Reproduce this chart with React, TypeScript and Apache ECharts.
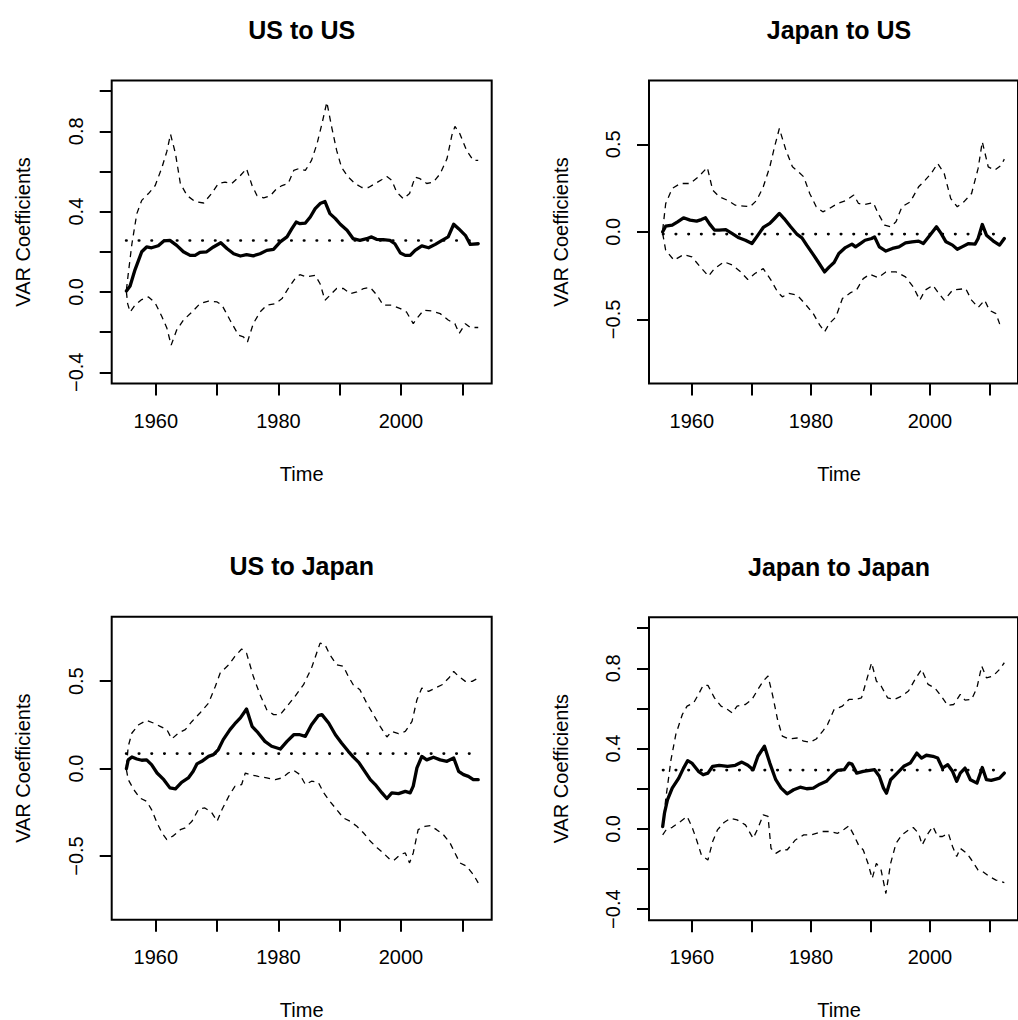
import React, { useEffect, useRef } from "react";
import * as echarts from "echarts";

// ---------- DATA ----------
const START_YEAR = 1955.15;
const END_YEAR = 2012.6;

const X_TICKS = [1960, 1970, 1980, 1990, 2000, 2010];
const X_LABELS = [1960, 1980, 2000];

// US to US
const US_US_MEAN = 0.256;
const US_US_COEF: [number, number][] = [
  [1955.2, 0.005], [1955.8, 0.03], [1956.6, 0.11], [1957.7, 0.2], [1958.5, 0.224], [1959.3, 0.22], [1960.4, 0.23],
  [1961.3, 0.254], [1962.3, 0.257], [1963.4, 0.232], [1964.5, 0.2], [1965.6, 0.182], [1966.4, 0.182], [1967.2, 0.197],
  [1968.3, 0.2], [1969.4, 0.224], [1970.6, 0.245], [1971.6, 0.216], [1972.7, 0.19], [1973.8, 0.179], [1974.8, 0.186],
  [1975.9, 0.18], [1977.0, 0.19], [1978.1, 0.207], [1979.2, 0.212], [1980.3, 0.249], [1981.4, 0.274], [1982.2, 0.315],
  [1982.9, 0.348], [1983.5, 0.34], [1984.4, 0.343], [1985.2, 0.373], [1986.0, 0.415], [1986.8, 0.44], [1987.6, 0.45],
  [1988.4, 0.39], [1989.3, 0.365], [1990.1, 0.337], [1991.2, 0.307], [1992.2, 0.265], [1993.3, 0.257], [1994.4, 0.265],
  [1995.2, 0.274], [1996.0, 0.262], [1997.1, 0.26], [1998.2, 0.257], [1999.0, 0.24], [1999.9, 0.194], [2000.7, 0.182],
  [2001.5, 0.182], [2002.3, 0.207], [2003.4, 0.229], [2004.5, 0.22], [2005.6, 0.237], [2006.7, 0.257], [2007.7, 0.274],
  [2008.6, 0.337], [2009.4, 0.315], [2010.5, 0.282], [2011.3, 0.237], [2012.6, 0.24],
];
const US_US_UPPER: [number, number][] = [
  [1955.2, 0.01], [1955.5, 0.09], [1956.1, 0.24], [1956.9, 0.39], [1957.7, 0.456], [1958.8, 0.49], [1959.9, 0.53],
  [1961.0, 0.62], [1961.8, 0.7], [1962.4, 0.785], [1963.2, 0.69], [1964.0, 0.54], [1965.1, 0.48], [1966.4, 0.45],
  [1967.8, 0.443], [1969.1, 0.49], [1970.2, 0.54], [1971.3, 0.547], [1972.4, 0.54], [1973.8, 0.58], [1974.8, 0.614],
  [1975.7, 0.53], [1976.5, 0.48], [1977.6, 0.468], [1978.7, 0.48], [1979.7, 0.514], [1980.6, 0.53], [1981.6, 0.54],
  [1982.5, 0.605], [1983.3, 0.614], [1984.4, 0.605], [1985.4, 0.655], [1986.3, 0.738], [1987.1, 0.837], [1987.9, 0.945],
  [1988.7, 0.82], [1989.5, 0.705], [1990.3, 0.62], [1991.4, 0.572], [1992.5, 0.54], [1993.6, 0.52], [1994.7, 0.52],
  [1995.8, 0.54], [1996.9, 0.56], [1997.7, 0.575], [1998.5, 0.556], [1999.3, 0.497], [2000.4, 0.464], [2001.4, 0.49],
  [2002.3, 0.572], [2003.1, 0.564], [2004.2, 0.54], [2005.3, 0.547], [2006.4, 0.589], [2007.5, 0.663], [2008.3, 0.78],
  [2008.8, 0.824], [2009.6, 0.788], [2010.7, 0.705], [2011.8, 0.655], [2012.6, 0.655],
];
const US_US_LOWER: [number, number][] = [
  [1955.2, 0.0], [1955.4, -0.058], [1955.8, -0.1], [1956.6, -0.066], [1957.7, -0.038], [1958.8, -0.025], [1959.9, -0.055],
  [1961.0, -0.124], [1961.8, -0.18], [1962.5, -0.265], [1963.4, -0.19], [1964.5, -0.14], [1965.9, -0.1], [1967.2, -0.058],
  [1968.6, -0.046], [1970.0, -0.05], [1970.8, -0.066], [1972.1, -0.14], [1973.5, -0.216], [1974.3, -0.224], [1974.95, -0.249],
  [1975.9, -0.158], [1977.0, -0.1], [1978.1, -0.066], [1979.5, -0.058], [1980.6, -0.033], [1981.6, 0.017], [1982.7, 0.066],
  [1983.5, 0.086], [1984.6, 0.075], [1986.0, 0.083], [1986.8, 0.041], [1987.6, -0.041], [1988.4, -0.017], [1989.5, 0.017],
  [1990.6, 0.017], [1991.7, -0.008], [1992.8, 0.0], [1993.9, 0.017], [1995.0, 0.022], [1996.1, -0.017], [1997.1, -0.066],
  [1998.5, -0.066], [1999.9, -0.083], [2000.9, -0.1], [2002.0, -0.158], [2002.8, -0.124], [2003.7, -0.091], [2005.0, -0.095],
  [2006.4, -0.108], [2007.7, -0.14], [2008.8, -0.158], [2009.5, -0.207], [2010.5, -0.158], [2011.3, -0.177], [2012.6, -0.177],
];

// Japan to US
const JP_US_MEAN = -0.013;
const JP_US_COEF: [number, number][] = [
  [1955.1, 0.0], [1955.6, 0.032], [1956.7, 0.038], [1957.6, 0.057], [1958.6, 0.08], [1959.7, 0.067], [1960.8, 0.061],
  [1961.6, 0.07], [1962.3, 0.08], [1963.0, 0.044], [1963.8, 0.01], [1964.6, 0.01], [1965.7, 0.013], [1966.8, -0.01],
  [1967.9, -0.034], [1969.0, -0.048], [1970.1, -0.067], [1970.9, -0.029], [1972.0, 0.025], [1973.1, 0.048], [1973.9, 0.076],
  [1974.7, 0.105], [1975.5, 0.076], [1976.6, 0.029], [1977.7, -0.015], [1978.5, -0.034], [1979.3, -0.076], [1980.4, -0.13],
  [1981.2, -0.171], [1982.3, -0.229], [1983.1, -0.2], [1983.9, -0.175], [1984.7, -0.124], [1985.8, -0.09], [1986.9, -0.07],
  [1987.5, -0.086], [1988.3, -0.067], [1989.1, -0.048], [1990.2, -0.038], [1990.7, -0.029], [1991.5, -0.086], [1992.6, -0.11],
  [1993.7, -0.095], [1994.8, -0.086], [1995.9, -0.063], [1997.0, -0.057], [1998.1, -0.053], [1998.9, -0.067], [2000.0, -0.019],
  [2001.1, 0.029], [2001.9, -0.01], [2002.7, -0.057], [2003.8, -0.076], [2004.6, -0.1], [2005.4, -0.086], [2006.5, -0.067],
  [2007.6, -0.07], [2008.1, -0.038], [2008.8, 0.042], [2009.5, -0.019], [2010.6, -0.051], [2011.7, -0.076], [2012.5, -0.038],
];
const JP_US_UPPER: [number, number][] = [
  [1955.1, 0.01], [1955.6, 0.16], [1956.7, 0.248], [1958.1, 0.276], [1959.7, 0.276], [1961.1, 0.314], [1962.6, 0.368],
  [1963.5, 0.238], [1964.6, 0.2], [1966.0, 0.18], [1967.3, 0.152], [1968.7, 0.147], [1969.8, 0.143], [1970.9, 0.18],
  [1972.0, 0.257], [1973.1, 0.371], [1973.9, 0.486], [1974.7, 0.59], [1975.8, 0.467], [1976.9, 0.371], [1977.9, 0.343],
  [1978.8, 0.314], [1979.8, 0.219], [1980.9, 0.143], [1982.0, 0.114], [1983.1, 0.133], [1984.5, 0.162], [1985.8, 0.177],
  [1987.2, 0.21], [1988.0, 0.162], [1989.1, 0.156], [1990.5, 0.166], [1991.3, 0.105], [1992.4, 0.038], [1993.4, 0.029],
  [1994.3, 0.057], [1995.3, 0.143], [1996.7, 0.171], [1998.1, 0.257], [1999.2, 0.295], [2000.2, 0.333], [2001.3, 0.39],
  [2002.4, 0.333], [2003.5, 0.19], [2004.6, 0.143], [2005.7, 0.171], [2007.0, 0.219], [2008.1, 0.362], [2008.8, 0.514],
  [2009.8, 0.371], [2010.9, 0.352], [2012.0, 0.381], [2012.5, 0.415],
];
const JP_US_LOWER: [number, number][] = [
  [1955.1, -0.01], [1955.6, -0.105], [1957.0, -0.162], [1958.6, -0.13], [1960.0, -0.143], [1961.4, -0.2], [1962.8, -0.253],
  [1963.8, -0.21], [1965.4, -0.171], [1966.8, -0.19], [1968.2, -0.229], [1969.4, -0.272], [1970.6, -0.238], [1972.0, -0.21],
  [1973.3, -0.276], [1974.4, -0.343], [1975.2, -0.371], [1976.3, -0.352], [1977.7, -0.362], [1979.0, -0.41], [1980.4, -0.467],
  [1981.5, -0.533], [1982.3, -0.571], [1983.1, -0.524], [1984.2, -0.486], [1985.3, -0.381], [1986.6, -0.349], [1987.7, -0.33],
  [1988.8, -0.267], [1989.9, -0.242], [1991.3, -0.261], [1992.6, -0.229], [1994.3, -0.229], [1995.9, -0.257], [1997.2, -0.314],
  [1998.3, -0.39], [1999.2, -0.333], [2000.5, -0.305], [2001.3, -0.343], [2002.4, -0.39], [2003.8, -0.333], [2006.0, -0.324],
  [2007.0, -0.39], [2008.1, -0.432], [2009.2, -0.39], [2010.0, -0.448], [2011.1, -0.467], [2011.7, -0.524], [2012.5, -0.52],
];

// US to Japan
const US_JP_MEAN = 0.086;
const US_JP_COEF: [number, number][] = [
  [1955.2, 0.0], [1955.5, 0.05], [1956.1, 0.067], [1956.9, 0.055], [1957.7, 0.048], [1958.5, 0.05], [1959.3, 0.023],
  [1960.2, -0.025], [1961.3, -0.063], [1962.3, -0.11], [1963.2, -0.116], [1964.2, -0.078], [1965.3, -0.053], [1966.1, -0.015],
  [1966.7, 0.027], [1967.5, 0.042], [1968.6, 0.07], [1969.4, 0.08], [1970.2, 0.109], [1971.0, 0.166], [1972.1, 0.223],
  [1972.9, 0.257], [1973.8, 0.29], [1974.8, 0.341], [1975.7, 0.242], [1976.7, 0.204], [1977.8, 0.156], [1978.9, 0.128],
  [1980.3, 0.112], [1981.4, 0.156], [1982.5, 0.194], [1983.5, 0.194], [1984.4, 0.185], [1985.4, 0.251], [1986.5, 0.303],
  [1987.1, 0.309], [1988.2, 0.261], [1989.3, 0.194], [1990.3, 0.147], [1991.4, 0.099], [1992.2, 0.067], [1993.1, 0.036],
  [1993.9, -0.006], [1995.0, -0.063], [1995.8, -0.091], [1996.9, -0.139], [1997.7, -0.171], [1998.5, -0.139], [1999.6, -0.143],
  [2000.7, -0.13], [2001.5, -0.139], [2002.0, -0.1], [2002.6, 0.004], [2003.4, 0.07], [2004.2, 0.05], [2005.3, 0.065],
  [2006.4, 0.05], [2007.5, 0.042], [2008.6, 0.061], [2009.4, -0.015], [2010.2, -0.034], [2011.0, -0.044], [2011.8, -0.063],
  [2012.6, -0.063],
];
const US_JP_UPPER: [number, number][] = [
  [1955.2, 0.013], [1955.5, 0.128], [1956.1, 0.204], [1957.2, 0.251], [1958.5, 0.276], [1959.6, 0.261], [1960.7, 0.242],
  [1961.8, 0.223], [1962.6, 0.17], [1963.7, 0.204], [1964.8, 0.223], [1965.9, 0.27], [1967.2, 0.318], [1968.6, 0.375],
  [1969.7, 0.47], [1970.5, 0.547], [1971.9, 0.594], [1972.9, 0.642], [1974.0, 0.684], [1974.8, 0.661], [1975.9, 0.528],
  [1977.0, 0.423], [1978.1, 0.337], [1979.2, 0.309], [1980.3, 0.309], [1981.4, 0.356], [1982.7, 0.413], [1984.1, 0.48],
  [1985.4, 0.575], [1986.8, 0.718], [1987.6, 0.709], [1988.4, 0.651], [1989.5, 0.594], [1990.6, 0.585], [1991.4, 0.528],
  [1992.2, 0.48], [1993.3, 0.451], [1994.4, 0.375], [1995.5, 0.309], [1996.6, 0.242], [1997.7, 0.181], [1998.5, 0.213],
  [1999.6, 0.2], [2000.7, 0.213], [2001.8, 0.27], [2002.6, 0.394], [2003.4, 0.461], [2004.5, 0.442], [2005.6, 0.461],
  [2006.7, 0.48], [2007.8, 0.518], [2008.6, 0.556], [2009.4, 0.528], [2010.5, 0.499], [2011.6, 0.499], [2012.6, 0.518],
];
const US_JP_LOWER: [number, number][] = [
  [1955.2, -0.006], [1955.5, -0.063], [1956.4, -0.12], [1957.4, -0.168], [1958.5, -0.187], [1959.3, -0.234], [1960.2, -0.31],
  [1961.0, -0.368], [1961.8, -0.406], [1962.9, -0.383], [1964.0, -0.349], [1964.8, -0.339], [1965.9, -0.301], [1967.0, -0.23],
  [1968.0, -0.225], [1969.1, -0.25], [1970.0, -0.301], [1970.8, -0.234], [1971.9, -0.158], [1972.9, -0.101], [1974.0, -0.091],
  [1974.6, -0.025], [1975.4, -0.034], [1976.7, -0.044], [1978.1, -0.053], [1979.5, -0.063], [1980.6, -0.053], [1981.6, -0.025],
  [1982.5, -0.01], [1983.5, -0.034], [1984.4, -0.091], [1985.4, -0.072], [1986.5, -0.078], [1987.4, -0.139], [1988.4, -0.187],
  [1989.5, -0.234], [1990.6, -0.282], [1991.7, -0.301], [1992.8, -0.33], [1993.9, -0.368], [1995.0, -0.415], [1996.1, -0.453],
  [1997.1, -0.482], [1998.2, -0.52], [1998.8, -0.526], [1999.9, -0.491], [2000.7, -0.482], [2001.4, -0.539], [2002.0, -0.482],
  [2002.8, -0.349], [2003.9, -0.33], [2004.8, -0.326], [2005.8, -0.349], [2006.9, -0.377], [2008.0, -0.425], [2008.8, -0.482],
  [2009.6, -0.539], [2010.7, -0.558], [2011.8, -0.606], [2012.6, -0.653],
];

// Japan to Japan
const JP_JP_MEAN = 0.293;
const JP_JP_COEF: [number, number][] = [
  [1955.1, 0.012], [1955.4, 0.078], [1955.9, 0.145], [1956.7, 0.203], [1957.8, 0.253], [1958.6, 0.303], [1959.3, 0.34],
  [1960.0, 0.328], [1961.1, 0.287], [1961.9, 0.27], [1962.7, 0.278], [1963.5, 0.312], [1964.6, 0.317], [1966.0, 0.312],
  [1967.3, 0.317], [1968.4, 0.333], [1969.4, 0.317], [1970.3, 0.295], [1971.1, 0.362], [1972.2, 0.412], [1973.1, 0.328],
  [1974.1, 0.245], [1975.0, 0.203], [1976.0, 0.175], [1977.1, 0.195], [1978.2, 0.208], [1979.3, 0.2], [1980.4, 0.203],
  [1981.5, 0.223], [1982.6, 0.237], [1983.4, 0.262], [1984.5, 0.292], [1985.6, 0.295], [1986.4, 0.328], [1986.9, 0.323],
  [1987.7, 0.278], [1988.8, 0.287], [1989.9, 0.292], [1990.7, 0.295], [1991.5, 0.262], [1992.2, 0.203], [1992.7, 0.178],
  [1993.4, 0.245], [1994.5, 0.278], [1995.6, 0.312], [1996.7, 0.328], [1997.8, 0.378], [1998.6, 0.353], [1999.4, 0.367],
  [2000.5, 0.362], [2001.3, 0.353], [2002.1, 0.303], [2003.0, 0.32], [2003.8, 0.287], [2004.5, 0.237], [2005.1, 0.278],
  [2005.9, 0.303], [2006.8, 0.245], [2007.9, 0.228], [2008.8, 0.306], [2009.5, 0.245], [2010.3, 0.242], [2011.7, 0.253],
  [2012.5, 0.278],
];
const JP_JP_UPPER: [number, number][] = [
  [1955.1, 0.012], [1955.6, 0.145], [1956.5, 0.345], [1957.3, 0.47], [1958.4, 0.57], [1959.2, 0.612], [1960.3, 0.628],
  [1961.1, 0.67], [1961.9, 0.715], [1962.7, 0.715], [1963.8, 0.653], [1964.9, 0.612], [1966.0, 0.595], [1966.8, 0.578],
  [1967.6, 0.612], [1969.0, 0.62], [1970.1, 0.645], [1971.1, 0.695], [1972.0, 0.737], [1972.8, 0.762], [1973.6, 0.662],
  [1974.4, 0.545], [1975.2, 0.462], [1976.3, 0.448], [1977.7, 0.453], [1978.8, 0.437], [1979.8, 0.432], [1980.9, 0.448],
  [1982.0, 0.487], [1982.8, 0.52], [1983.9, 0.595], [1985.3, 0.612], [1986.4, 0.645], [1987.5, 0.645], [1988.5, 0.653],
  [1989.4, 0.745], [1990.2, 0.828], [1991.0, 0.737], [1991.8, 0.712], [1992.9, 0.653], [1994.0, 0.645], [1995.3, 0.662],
  [1996.4, 0.687], [1997.5, 0.745], [1998.6, 0.795], [1999.7, 0.72], [2000.8, 0.703], [2001.9, 0.662], [2003.0, 0.615],
  [2004.0, 0.62], [2005.1, 0.67], [2005.9, 0.642], [2007.0, 0.645], [2007.9, 0.703], [2008.7, 0.812], [2009.5, 0.753],
  [2010.6, 0.762], [2011.7, 0.795], [2012.5, 0.828],
];
const JP_JP_LOWER: [number, number][] = [
  [1955.1, -0.03], [1955.6, -0.008], [1956.7, 0.008], [1958.1, 0.037], [1959.2, 0.062], [1960.0, 0.012], [1960.8, -0.055],
  [1961.6, -0.13], [1962.7, -0.155], [1963.5, -0.063], [1964.3, -0.005], [1965.4, 0.032], [1966.5, 0.053], [1967.6, 0.045],
  [1969.0, 0.02], [1970.3, -0.047], [1971.1, 0.003], [1972.0, 0.07], [1972.8, 0.062], [1973.3, -0.097], [1974.1, -0.122],
  [1975.2, -0.102], [1976.0, -0.105], [1977.4, -0.055], [1978.8, -0.03], [1980.1, -0.03], [1981.8, -0.013], [1983.1, -0.013],
  [1984.5, -0.022], [1985.6, -0.002], [1986.4, 0.015], [1987.2, -0.03], [1988.0, -0.08], [1988.8, -0.105], [1989.6, -0.172],
  [1990.3, -0.247], [1991.0, -0.172], [1991.8, -0.205], [1992.6, -0.322], [1993.4, -0.172], [1994.3, -0.072], [1995.3, -0.03],
  [1996.4, -0.005], [1997.2, 0.007], [1998.1, -0.022], [1998.7, -0.08], [1999.7, -0.022], [2000.5, 0.012], [2001.3, -0.038],
  [2002.1, -0.038], [2003.1, -0.022], [2003.8, -0.088], [2004.5, -0.138], [2005.1, -0.097], [2006.2, -0.122], [2007.0, -0.155],
  [2008.1, -0.205], [2008.9, -0.213], [2010.0, -0.238], [2011.1, -0.255], [2012.5, -0.268],
];

// Y axis ticks and labels
const Y_TICKS_A = [-0.4, -0.2, 0.0, 0.2, 0.4, 0.6, 0.8, 1.0];
const Y_LABELS_A = [-0.4, 0.0, 0.4, 0.8];
const Y_TICKS_B = [-0.5, 0.0, 0.5];
const Y_LABELS_B = [-0.5, 0.0, 0.5];

// ---------- LAYOUT ----------
const FONT = '"Liberation Sans", Arial, Helvetica, sans-serif';
const X_MIN = 1952.8;
const X_MAX = 2014.8;
const BOX_W = 380;
const BOX_H = 303;

const panels = [
  { title: "US to US", coef: US_US_COEF, upper: US_US_UPPER, lower: US_US_LOWER, mean: US_US_MEAN,
    yMin: -0.456, yMax: 1.053, yTicks: Y_TICKS_A, yLabels: Y_LABELS_A, left: 111.7, top: 80.5 },
  { title: "Japan to US", coef: JP_US_COEF, upper: JP_US_UPPER, lower: JP_US_LOWER, mean: JP_US_MEAN,
    yMin: -0.866, yMax: 0.864, yTicks: Y_TICKS_B, yLabels: Y_LABELS_B, left: 649, top: 80.5 },
  { title: "US to Japan", coef: US_JP_COEF, upper: US_JP_UPPER, lower: US_JP_LOWER, mean: US_JP_MEAN,
    yMin: -0.864, yMax: 0.869, yTicks: Y_TICKS_B, yLabels: Y_LABELS_B, left: 111.7, top: 616.7 },
  { title: "Japan to Japan", coef: JP_JP_COEF, upper: JP_JP_UPPER, lower: JP_JP_LOWER, mean: JP_JP_MEAN,
    yMin: -0.455, yMax: 1.055, yTicks: Y_TICKS_A, yLabels: Y_LABELS_A, left: 649, top: 617.2 },
];

const fmtY = (v: number) => v.toFixed(1).replace("-", "\u2212");

function buildOption() {
  const grid: any[] = [];
  const xAxis: any[] = [];
  const yAxis: any[] = [];
  const series: any[] = [];
  const graphic: any[] = [];

  panels.forEach((p, i) => {
    grid.push({
      left: p.left, top: p.top, width: BOX_W, height: BOX_H,
      show: true, borderColor: "#000", borderWidth: 2, backgroundColor: "transparent", containLabel: false,
    });
    xAxis.push({
      type: "value", gridIndex: i, min: X_MIN, max: X_MAX, position: "bottom",
      axisLine: { show: false, onZero: false },
      splitLine: { show: false },
      axisTick: { show: true, length: 12, inside: false, customValues: X_TICKS, lineStyle: { color: "#000", width: 2 } },
      axisLabel: {
        show: true, customValues: X_LABELS, margin: 27, color: "#000", fontSize: 20, fontFamily: FONT,
        formatter: (v: number) => String(Math.round(v)),
      },
    });
    yAxis.push({
      type: "value", gridIndex: i, min: p.yMin, max: p.yMax, position: "left",
      axisLine: { show: false, onZero: false },
      splitLine: { show: false },
      axisTick: { show: true, length: 12, inside: false, customValues: p.yTicks, lineStyle: { color: "#000", width: 2 } },
      axisLabel: {
        show: true, customValues: p.yLabels, rotate: 90, margin: 26, color: "#000", fontSize: 20, fontFamily: FONT,
        formatter: (v: number) => fmtY(v),
      },
    });

    const base = { type: "line", xAxisIndex: i, yAxisIndex: i, symbol: "none", silent: true, clip: true };
    series.push({
      ...base, name: p.title + " upper", data: p.upper,
      lineStyle: { color: "#000", width: 1.3, type: [6, 5], cap: "butt" },
    });
    series.push({
      ...base, name: p.title + " lower", data: p.lower,
      lineStyle: { color: "#000", width: 1.3, type: [6, 5], cap: "butt" },
    });
    series.push({
      ...base, name: p.title + " mean", data: [[START_YEAR, p.mean], [END_YEAR, p.mean]],
      lineStyle: { color: "#000", width: 2.6, type: [0.5, 12.2], cap: "round" },
    });
    series.push({
      ...base, name: p.title, data: p.coef,
      lineStyle: { color: "#000", width: 3.3, cap: "round", join: "round" },
    });

    const cx = p.left + BOX_W / 2;
    const cy = p.top + BOX_H / 2;
    graphic.push({
      type: "text", x: cx, y: p.top - 50.5,
      style: { text: p.title, font: `bold 25px ${FONT}`, fill: "#000", textAlign: "center", textVerticalAlign: "middle" },
    });
    graphic.push({
      type: "text", x: cx, y: p.top + BOX_H + 90,
      style: { text: "Time", font: `20px ${FONT}`, fill: "#000", textAlign: "center", textVerticalAlign: "middle" },
    });
    graphic.push({
      type: "text", x: p.left - 88.5, y: cy, rotation: Math.PI / 2,
      style: { text: "VAR Coefficients", font: `20px ${FONT}`, fill: "#000", textAlign: "center", textVerticalAlign: "middle" },
    });
  });

  return {
    animation: false,
    backgroundColor: "#fff",
    grid, xAxis, yAxis, series, graphic,
  };
}

export default function App() {
  const ref = useRef<HTMLDivElement>(null);
  useEffect(() => {
    if (!ref.current) return;
    const chart = echarts.init(ref.current, null, { renderer: "svg", width: 1018, height: 1020 });
    chart.setOption(buildOption() as any);
    return () => chart.dispose();
  }, []);
  return (
    <div
      ref={ref}
      style={{ position: "absolute", left: 0, top: 0, width: 1018, height: 1020, background: "#fff" }}
    />
  );
}
